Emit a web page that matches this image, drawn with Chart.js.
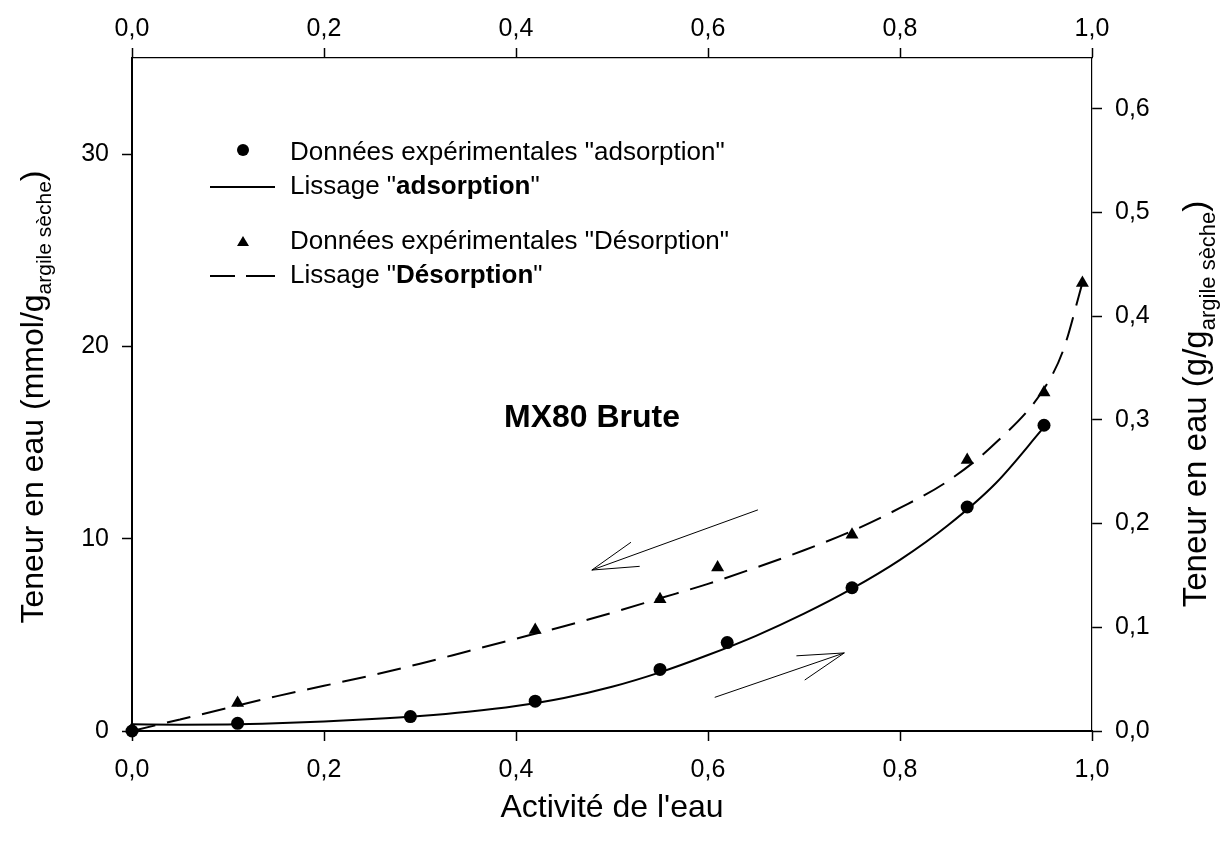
<!DOCTYPE html>
<html>
<head>
  <title>MX80 Brute</title>
  <script src="https://cdn.jsdelivr.net/npm/chart.js@4.4.0/dist/chart.umd.min.js"></script>
  <style>
    body { margin: 0; background: #fff; }
  </style>
</head>
<body>
  <canvas id="isotherme" width="1224" height="842"></canvas>

  <script>
    // experimental points (water activity / mmol per g of dry clay)
    var adsX = [0, 0.11, 0.29, 0.42, 0.55, 0.62, 0.75, 0.87, 0.95];
    var adsY = [0, 0.4, 0.75, 1.55, 3.2, 4.6, 7.45, 11.65, 15.9];
    var desX = [0, 0.11, 0.42, 0.55, 0.61, 0.75, 0.87, 0.95, 0.99];
    var desY = [0.1, 1.45, 5.25, 6.85, 8.5, 10.2, 14.1, 17.6, 23.3];

    // fitted curves
    var fitAdsX = [0, 0.05, 0.1, 0.15, 0.2, 0.25, 0.3, 0.35, 0.4, 0.45, 0.5, 0.55, 0.6, 0.65, 0.7, 0.75, 0.8, 0.85, 0.9, 0.95];
    var fitAdsY = [0.35, 0.33, 0.34, 0.4, 0.5, 0.62, 0.78, 1.0, 1.3, 1.72, 2.3, 3.05, 3.95, 4.95, 6.1, 7.4, 8.9, 10.7, 12.9, 15.8];
    var fitDesX = [0, 0.05, 0.1, 0.15, 0.2, 0.25, 0.3, 0.35, 0.4, 0.45, 0.5, 0.55, 0.6, 0.65, 0.7, 0.75, 0.8, 0.85, 0.9, 0.95, 0.97, 0.99];
    var fitDesY = [0, 0.6, 1.2, 1.8, 2.35, 2.9, 3.5, 4.15, 4.8, 5.45, 6.15, 6.9, 7.65, 8.5, 9.4, 10.4, 11.6, 13.0, 15.0, 17.8, 19.8, 23.3];

    // tick labels
    var xTicks = [0, 0.2, 0.4, 0.6, 0.8, 1.0];
    var yTicks = [0, 10, 20, 30];
    var y2Ticks = [0, 0.1, 0.2, 0.3, 0.4, 0.5, 0.6];

    // arrows [tailX, tailY, tipX, tipY] in data units
    var arrows = [
      [0.652, 11.5, 0.479, 8.37],
      [0.607, 1.75, 0.742, 4.06]
    ];

    var FONT = '"Liberation Sans", Arial, sans-serif';

    function pts(xs, ys) {
      return xs.map(function(x, i) { return { x: x, y: ys[i] }; });
    }
    function comma(v) { return v.toFixed(1).replace('.', ','); }

    function axis(pos, min, max, ticks, fmt, size, bw, pad) {
      return {
        type: 'linear', position: pos, min: min, max: max,
        afterBuildTicks: function(s) { s.ticks = ticks.map(function(v) { return { value: v }; }); },
        afterFit: function(s) {
          if (pos == 'left' || pos == 'right') s.width = size; else s.height = size;
        },
        ticks: { color: '#000', padding: pad, maxRotation: 0, font: { family: FONT, size: 25 },
                 callback: fmt },
        grid: { drawOnChartArea: false, color: '#000', tickLength: 10, tickWidth: 1.5 },
        border: { color: '#000', width: bw }
      };
    }

    function drawRotTitle(ctx, cx, cy, size, main, sub, tail) {
      var big = size + 'px ' + FONT, small = Math.round(size * 0.66) + 'px ' + FONT;
      ctx.font = big; var w1 = ctx.measureText(main).width, w3 = ctx.measureText(tail).width;
      ctx.font = small; var w2 = ctx.measureText(sub).width;
      ctx.save();
      ctx.translate(cx, cy);
      ctx.rotate(-Math.PI / 2);
      ctx.textBaseline = 'middle';
      var x = -(w1 + w2 + w3) / 2;
      ctx.font = big; ctx.fillText(main, x, 0);
      ctx.font = small; ctx.fillText(sub, x + w1, size * 0.35);
      ctx.font = big; ctx.fillText(tail, x + w1 + w2, 0);
      ctx.restore();
    }

    function drawParts(ctx, x, y, parts) {
      parts.forEach(function(p) {
        ctx.font = (p[1] ? 'bold ' : '') + '26px ' + FONT;
        ctx.fillText(p[0], x, y);
        x += ctx.measureText(p[0]).width;
      });
    }

    var extras = {
      id: 'extras',
      afterDraw: function(chart) {
        var ctx = chart.ctx, xs = chart.scales.x, ys = chart.scales.y, a = chart.chartArea;
        ctx.save();
        ctx.fillStyle = '#000';
        ctx.strokeStyle = '#000';

        // arrows
        ctx.lineWidth = 1;
        arrows.forEach(function(ar) {
          var x1 = xs.getPixelForValue(ar[0]), y1 = ys.getPixelForValue(ar[1]);
          var x2 = xs.getPixelForValue(ar[2]), y2 = ys.getPixelForValue(ar[3]);
          var ang = Math.atan2(y1 - y2, x1 - x2), len = 48, spread = 0.27;
          ctx.beginPath();
          ctx.moveTo(x1, y1); ctx.lineTo(x2, y2);
          ctx.moveTo(x2 + len * Math.cos(ang + spread), y2 + len * Math.sin(ang + spread));
          ctx.lineTo(x2, y2);
          ctx.lineTo(x2 + len * Math.cos(ang - spread), y2 + len * Math.sin(ang - spread));
          ctx.stroke();
        });

        // legend inside the plot
        ctx.textBaseline = 'middle';
        ctx.textAlign = 'left';
        var lx = a.left + 111, tx = a.left + 158;
        ctx.beginPath(); ctx.arc(lx, a.top + 92, 6, 0, Math.PI * 2); ctx.fill();
        drawParts(ctx, tx, a.top + 95, [['Données expérimentales "adsorption"', false]]);
        ctx.lineWidth = 2;
        ctx.beginPath(); ctx.moveTo(lx - 33, a.top + 129); ctx.lineTo(lx + 32, a.top + 129); ctx.stroke();
        drawParts(ctx, tx, a.top + 129, [['Lissage "', false], ['adsorption', true], ['"', false]]);
        ctx.beginPath();
        ctx.moveTo(lx, a.top + 178); ctx.lineTo(lx + 6, a.top + 188); ctx.lineTo(lx - 6, a.top + 188);
        ctx.closePath(); ctx.fill();
        drawParts(ctx, tx, a.top + 184, [['Données expérimentales "Désorption"', false]]);
        ctx.beginPath();
        ctx.moveTo(lx - 33, a.top + 218); ctx.lineTo(lx - 8, a.top + 218);
        ctx.moveTo(lx + 3, a.top + 218); ctx.lineTo(lx + 32, a.top + 218);
        ctx.stroke();
        drawParts(ctx, tx, a.top + 218, [['Lissage "', false], ['Désorption', true], ['"', false]]);

        // label
        ctx.textAlign = 'center';
        ctx.font = 'bold 32px ' + FONT;
        ctx.fillText('MX80 Brute', 592, 418);

        // axis titles
        ctx.font = '32px ' + FONT;
        ctx.fillText("Activité de l'eau", (a.left + a.right) / 2, 808);
        ctx.textAlign = 'left';
        drawRotTitle(ctx, 34, 397, 32, 'Teneur en eau (mmol/g', 'argile sèche', ')');
        drawRotTitle(ctx, 1197, 404, 33, 'Teneur en eau (g/g', 'argile sèche', ')');
        ctx.restore();
      }
    };

    var ctx = document.getElementById('isotherme').getContext('2d');

    var chart = new Chart(ctx, {
      type: 'scatter',
      data: {
        datasets: [
          { data: pts(fitAdsX, fitAdsY), showLine: true, borderColor: '#000', borderWidth: 2,
            pointRadius: 0, cubicInterpolationMode: 'monotone', clip: false },
          { data: pts(fitDesX, fitDesY), showLine: true, borderColor: '#000', borderWidth: 2,
            borderDash: [24, 12], pointRadius: 0, cubicInterpolationMode: 'monotone', clip: false },
          { data: pts(adsX, adsY), pointStyle: 'circle', pointRadius: 6.5,
            backgroundColor: '#000', borderColor: '#000', borderWidth: 0, clip: false },
          { data: pts(desX, desY), pointStyle: 'triangle', pointRadius: 7.5,
            backgroundColor: '#000', borderColor: '#000', borderWidth: 0, clip: false }
        ]
      },
      options: {
        responsive: false,
        animation: false,
        layout: { padding: 0 },
        plugins: { legend: { display: false }, tooltip: { enabled: false } },
        scales: {
          x: axis('bottom', 0, 1, xTicks, function(v) { return comma(v); }, 111, 2, 14),
          x2: axis('top', 0, 1, xTicks, function(v) { return comma(v); }, 58, 1.2, 4),
          y: axis('left', 0, 35, yTicks, function(v) { return String(v); }, 132, 2, 13),
          y2: axis('right', 0, 0.649, y2Ticks, function(v) { return comma(v); }, 132, 1.2, 13)
        }
      },
      plugins: [extras]
    });
  </script>
</body>
</html>
